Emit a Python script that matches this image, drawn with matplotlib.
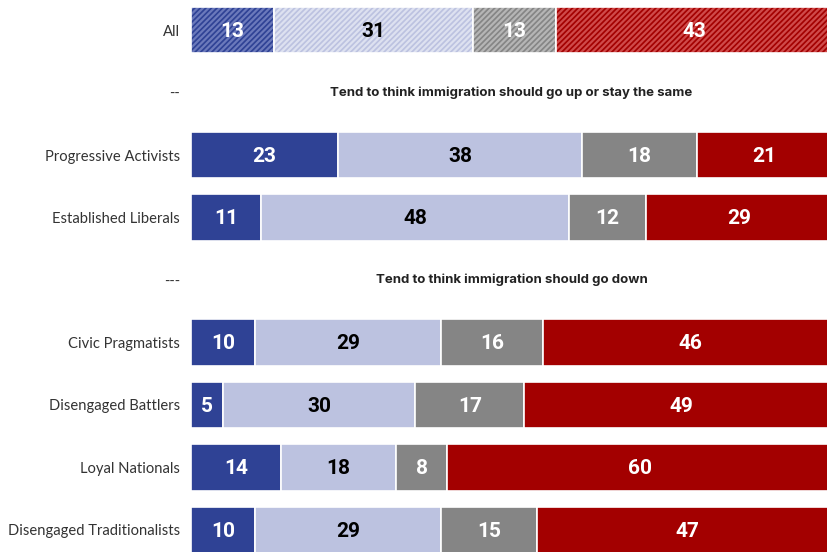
import numpy as np
import matplotlib.pyplot as plt

plt.rcParams['font.family'] = ['Lato', 'DejaVu Sans']

# rows from top to bottom; None marks a divider row
row_labels = ['All', '--', 'Progressive Activists', 'Established Liberals', '---',
              'Civic Pragmatists', 'Disengaged Battlers', 'Loyal Nationals',
              'Disengaged Traditionalists']
seg1 = [13, None, 23, 11, None, 10, 5, 14, 10]
seg2 = [31, None, 38, 48, None, 29, 30, 18, 29]
seg3 = [13, None, 18, 12, None, 16, 17, 8, 15]
seg4 = [43, None, 21, 29, None, 46, 49, 60, 47]
dividers = {1: 'Tend to think immigration should go up or stay the same',
            4: 'Tend to think immigration should go down'}

colors = ['#2f4295', '#bcc2e0', '#858585', '#a30000']
hatch_cols = ['#6b79bb', '#dde1f0', '#b5b5b5', '#cf4a4a']
txt_cols = ['white', 'black', 'white', 'white']

fig = plt.figure(figsize=(8.28, 5.52), dpi=100)
ax = fig.add_axes([191 / 828, 0, 1 - 191 / 828, 1])
plt.rcParams['hatch.linewidth'] = 1.6

for i, lab in enumerate(row_labels):
    vals = [seg1[i], seg2[i], seg3[i], seg4[i]]
    if vals[0] is None:
        ax.text(50, i, dividers[i], ha='center', va='center', family=['Inter', 'DejaVu Sans'],
                fontsize=9.5, fontweight='bold', color='#222222')
        continue
    left = 0
    for k, v in enumerate(vals):
        if i == 0:
            ax.barh(i, v, left=left, height=0.75, color=colors[k],
                    edgecolor=hatch_cols[k], hatch='//////', linewidth=0)
            ax.barh(i, v, left=left, height=0.75, fill=False,
                    edgecolor='white', linewidth=1.2)
        else:
            ax.barh(i, v, left=left, height=0.75, color=colors[k],
                    edgecolor='white', linewidth=1.2)
        ax.text(left + v / 2, i + 0.02, str(v), ha='center', va='center',
                family=['Roboto', 'DejaVu Sans'],
                fontsize=15, fontweight='bold', color=txt_cols[k])
        left += v

ax.set_yticks(range(len(row_labels)))
ax.set_yticklabels(row_labels, fontsize=10.6, color='#333333')
ax.tick_params(axis='y', length=0, pad=8)
ax.set_xticks([])
ax.set_xlim(0, 99.4)
ax.set_ylim(8 + 22 / 62.5, -30 / 62.5)
for s in ax.spines.values():
    s.set_visible(False)

fig.savefig('out.png', dpi=100)
